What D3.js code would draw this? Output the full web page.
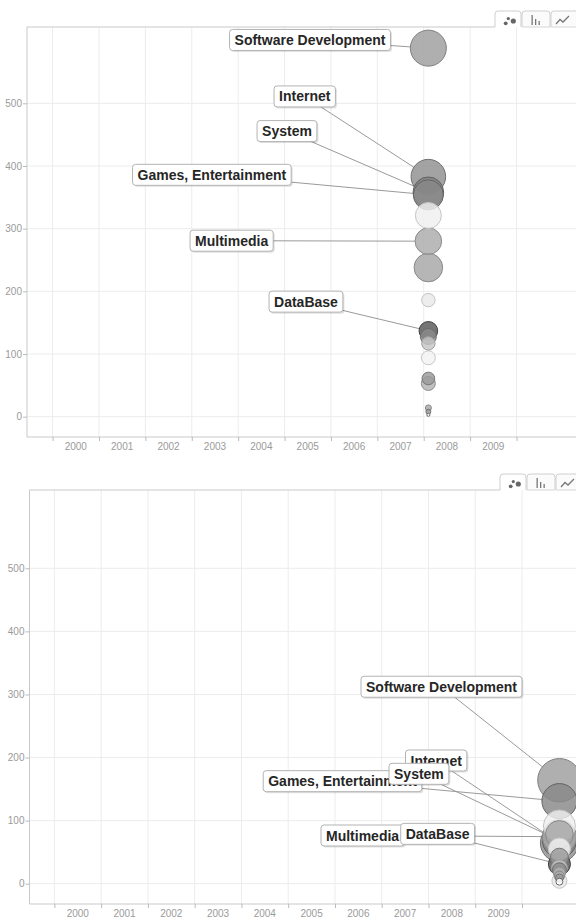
<!DOCTYPE html>
<html><head><meta charset="utf-8">
<script src="https://cdn.jsdelivr.net/npm/d3@7"></script>
<style>
html,body{margin:0;padding:0;background:#fff;}
svg{display:block;font-family:"Liberation Sans",Arial,Helvetica,sans-serif;}
</style></head><body>
<svg id="chart" width="576" height="921"></svg>
<script>
// ---------------- data ----------------
const categories = ["Software Development","Internet","System","Games, Entertainment","Communications",
  "Multimedia","Scientific/Engineering","Security","DataBase","Office/Business","Text Editors",
  "Education","Desktop Environment","Printing","Terminals","Religion","Other/Nonlisted Topic"];
const yearLabels = ["2000","2001","2002","2003","2004","2005","2006","2007","2008","2009"];
const yearBoundaries = [2000,2001,2002,2003,2004,2005,2006,2007,2008,2009,2010];
const yTickValues = [0,100,200,300,400,500];

const timeTop = 2008.1;
const valuesTop = [588,383,358,354,321,280,238,186,137,128,117,94,61,53,14,8,3];
const sizesTop  = [669,618,484,465,349,365,422,93,179,132,93,101,82,101,19,13,5];

const timeBottom = 2010.8;
const valuesBottom = [164,64.5,68.3,131,91.5,74.5,78,4.6,31,22,25,55,42,17,12,9,3.2];
const sizesBottom  = [973,746,597,633,529,597,400,116,250,101,132,250,167,74,52,33,25];

const labeledCategories = ["Software Development","Games, Entertainment","Internet","System","Multimedia","DataBase"];

// ---------------- styles / layout ----------------
const fills   = ["#9e9e9e","#8f8f8f","#838383","#878787","#efefef","#ababab","#a6a6a6","#e9e9e9","#575757",
                 "#8a8a8a","#c6c6c6","#f3f3f3","#9a9a9a","#b2b2b2","#aaaaaa","#999999","#ffffff"];
const strokes = ["#7e7e7e","#707070","#5e5e5e","#646464","#c4c4c4","#8a8a8a","#888888","#c2c2c2","#3e3e3e",
                 "#6a6a6a","#a0a0a0","#c8c8c8","#777777","#8e8e8e","#888888","#777777","#6a6a6a"];
const fillScale = d3.scaleOrdinal().domain(categories).range(fills);
const strokeScale = d3.scaleOrdinal().domain(categories).range(strokes);
const rScale = d3.scaleSqrt().domain([0,1000]).range([0,22]);

const panels = [
  {time: timeTop, values: valuesTop, sizes: sizesTop,
   left: 27, top: 27, bottom: 437, xA: 52.6, xB: 516.5, y0: 416.7, y500: 103.3, tabX: 495, tabTop: 11,
   offsets: {"Software Development":[-198.8,-18.7],"Internet":[-154.3,-90.7],"System":[-171.3,-71.7],
             "Games, Entertainment":[-295.8,-30.5],"Multimedia":[-238.3,-11],"DataBase":[-159.3,-39.7]}},
  {time: timeBottom, values: valuesBottom, sizes: sizesBottom,
   left: 29.5, top: 490, bottom: 904, xA: 54.4, xB: 522, y0: 883.7, y500: 568.3, tabX: 500, tabTop: 474,
   offsets: {"Software Development":[-198.4,-104],"Internet":[-153.9,-93],"System":[-170.4,-77.3],
             "Games, Entertainment":[-296.2,-30.4],"Multimedia":[-238.4,-11.7],"DataBase":[-158.7,-40.8]}}
];

const svg = d3.select("#chart");
const W = 576;

panels.forEach(p => {
  const g = svg.append("g");
  const x = d3.scaleLinear().domain([2000,2010]).range([p.xA, p.xB]);
  const y = d3.scaleLinear().domain([0,500]).range([p.y0, p.y500]);

  // gridlines
  g.append("g").selectAll("line").data(yTickValues).join("line")
    .attr("x1", p.left).attr("x2", W).attr("y1", d => y(d)).attr("y2", d => y(d))
    .attr("stroke", "#ececec").attr("stroke-width", 1);
  g.append("g").selectAll("line").data(yearBoundaries).join("line")
    .attr("x1", d => x(d)).attr("x2", d => x(d)).attr("y1", p.top).attr("y2", p.bottom)
    .attr("stroke", "#ececec").attr("stroke-width", 1);

  // border
  g.append("path")
    .attr("d", `M${p.tabX},${p.top}H${p.left}V${p.bottom}H${W}`)
    .attr("fill", "none").attr("stroke", "#c9c9c9").attr("stroke-width", 1);

  // y axis
  const yAxis = g.append("g").attr("transform", `translate(${p.left},0)`)
    .call(d3.axisLeft(y).tickValues(yTickValues).tickSize(4).tickPadding(1));
  yAxis.select(".domain").remove();
  yAxis.selectAll(".tick line").attr("stroke", "#bbb");
  yAxis.selectAll(".tick text").attr("fill", "#9a9a9a").style("font-size", "10px")
    .style("font-family", "Liberation Sans, Arial, sans-serif");

  // x axis
  const xAxis = g.append("g").attr("transform", `translate(0,${p.bottom})`)
    .call(d3.axisBottom(x).tickValues(yearBoundaries).tickSize(4).tickFormat(""));
  xAxis.select(".domain").remove();
  xAxis.selectAll(".tick line").attr("stroke", "#bbb");
  g.append("g").selectAll("text").data(yearLabels).join("text")
    .attr("x", d => x(+d + 0.5)).attr("y", p.bottom + 13)
    .attr("text-anchor", "middle").attr("fill", "#9a9a9a").style("font-size", "10px")
    .text(d => d);

  // tabs
  const tabs = [{x: p.tabX, w: 26, active: true}, {x: p.tabX + 27, w: 28}, {x: p.tabX + 56, w: 28}];
  const tg = g.append("g");
  tabs.forEach(t => {
    const h = p.top - p.tabTop;
    tg.append("path")
      .attr("d", `M${t.x},${p.top}V${p.tabTop + 3}Q${t.x},${p.tabTop} ${t.x + 3},${p.tabTop}H${t.x + t.w - 3}Q${t.x + t.w},${p.tabTop} ${t.x + t.w},${p.tabTop + 3}V${p.top}`)
      .attr("fill", t.active ? "#fff" : "#fbfbfb").attr("stroke", "#cfcfcf");
    if (!t.active) tg.append("line").attr("x1", t.x).attr("x2", t.x + t.w)
      .attr("y1", p.top).attr("y2", p.top).attr("stroke", "#d6d6d6");
  });
  const T = p.tabTop, X0 = p.tabX;
  [[10.7,12.3,1.9],[13.3,7.6,1.6],[18.3,10,2.6]].forEach(c =>
    tg.append("circle").attr("cx", X0 + c[0]).attr("cy", T + c[1]).attr("r", c[2]).attr("fill", "#666"));
  [[9.5,4],[13,8],[16.5,10]].forEach(b =>
    tg.append("rect").attr("x", X0 + 27 + b[0]).attr("y", T + b[1]).attr("width", 1.3).attr("height", 14 - b[1]).attr("fill", "#777"));
  tg.append("polyline").attr("points",
      `${X0+56+5},${T+13} ${X0+56+9},${T+8.5} ${X0+56+12},${T+11} ${X0+56+18},${T+5}`)
    .attr("fill", "none").attr("stroke", "#777").attr("stroke-width", 1.3);

  // bubbles data
  const data = categories.map((c, i) => ({
    name: c, cx: x(p.time), cy: y(p.values[i]), r: rScale(p.sizes[i])
  }));
  const byName = new Map(data.map(d => [d.name, d]));

  // label geometry
  const lg = g.append("g").style("font-size", "14px").style("font-weight", "bold");
  const labels = labeledCategories.map(name => {
    const d = byName.get(name);
    const t = lg.append("text").text(name).attr("x", -1000).attr("y", -1000);
    const w = t.node().getComputedTextLength() + 10;
    t.remove();
    const bx = d.cx + p.offsets[name][0], by = d.cy + p.offsets[name][1];
    return {name, d, bx, by, w, h: 21};
  });

  // connector lines (box centre -> bubble edge)
  g.append("g").selectAll("line").data(labels).join("line")
    .attr("x1", l => l.bx + l.w / 2).attr("y1", l => l.by + l.h / 2)
    .attr("x2", l => { const dx = l.d.cx - (l.bx + l.w/2), dy = l.d.cy - (l.by + l.h/2), L = Math.hypot(dx, dy); return l.d.cx - dx / L * l.d.r; })
    .attr("y2", l => { const dx = l.d.cx - (l.bx + l.w/2), dy = l.d.cy - (l.by + l.h/2), L = Math.hypot(dx, dy); return l.d.cy - dy / L * l.d.r; })
    .attr("stroke", "#9a9a9a").attr("stroke-width", 1);

  // bubbles, biggest first
  const sorted = data.slice().sort((a, b) => b.r - a.r);
  g.append("g").selectAll("circle").data(sorted).join("circle")
    .attr("cx", d => d.cx).attr("cy", d => d.cy).attr("r", d => d.r)
    .attr("fill", d => fillScale(d.name)).attr("fill-opacity", 0.82)
    .attr("stroke", d => strokeScale(d.name)).attr("stroke-width", 1);

  // label boxes
  const boxes = g.append("g").selectAll("g").data(labels).join("g")
    .attr("transform", l => `translate(${l.bx},${l.by})`);
  boxes.append("rect").attr("x", 1.5).attr("y", 1.5).attr("width", l => l.w).attr("height", l => l.h)
    .attr("rx", 3).attr("fill", "#000").attr("fill-opacity", 0.12);
  boxes.append("rect").attr("width", l => l.w).attr("height", l => l.h)
    .attr("rx", 3).attr("fill", "#fff").attr("stroke", "#b3b3b3");
  boxes.append("text").attr("x", 5).attr("y", 15.5)
    .attr("fill", "#262626").style("font-size", "14px").style("font-weight", "bold")
    .text(l => l.name);
});
</script>
</body></html>
